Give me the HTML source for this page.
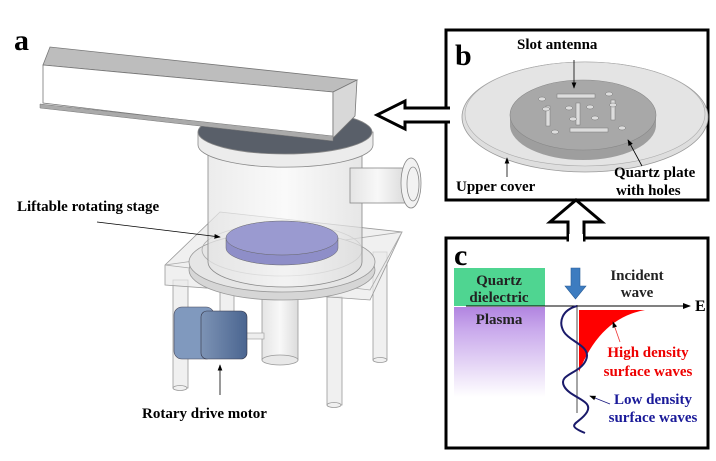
<!DOCTYPE html>
<html><head><style>
body{margin:0;background:#fff}
svg{display:block}
text{font-family:"Liberation Serif",serif;font-weight:bold}
</style></head><body>
<svg width="716" height="461" viewBox="0 0 716 461" xmlns="http://www.w3.org/2000/svg">
<defs>
<linearGradient id="pl" x1="0" y1="0" x2="0" y2="1">
<stop offset="0" stop-color="#b184e0"/><stop offset="0.25" stop-color="#c9a9ec"/><stop offset="1" stop-color="#fff"/></linearGradient>
<linearGradient id="cyl" x1="0" x2="1"><stop offset="0" stop-color="#e4e4e4"/><stop offset="0.5" stop-color="#f8f8f8"/><stop offset="1" stop-color="#dcdcdc"/></linearGradient>
<linearGradient id="mot" x1="0" x2="1"><stop offset="0" stop-color="#7d93b5"/><stop offset="1" stop-color="#4a6590"/></linearGradient>
<marker id="ah" markerWidth="8" markerHeight="8" refX="7" refY="4" orient="auto"><path d="M0,1 L8,4 L0,7z" fill="#000"/></marker>
</defs>
<text x="14" y="50" font-size="30">a</text>
<g fill="#f0f0f0" stroke="#999" stroke-width="0.8">
<rect x="173" y="280" width="15" height="108"/><ellipse cx="180" cy="388" rx="7" ry="2.5"/>
<rect x="327" y="297" width="15" height="108"/><ellipse cx="334" cy="405" rx="7" ry="2.5"/>
<rect x="373" y="252" width="14" height="108"/><ellipse cx="380" cy="360" rx="7" ry="2.5"/>
<rect x="220" y="285" width="14" height="30"/>
</g>
<rect x="262" y="290" width="36" height="70" fill="url(#cyl)" stroke="#999" stroke-width="0.8"/>
<ellipse cx="280" cy="360" rx="18" ry="5" fill="#e8e8e8" stroke="#999" stroke-width="0.8"/>
<polygon points="165,265 220,212 402,232 370,300 165,285" fill="#eaeaea" fill-opacity="0.7" stroke="#999" stroke-width="0.8"/>
<polygon points="165,265 370,290 402,232" fill="none" stroke="#aaa" stroke-width="0.8"/>
<ellipse cx="282" cy="270" rx="93" ry="30" fill="#d6d6d6" stroke="#999" stroke-width="0.8"/>
<ellipse cx="282" cy="262" rx="93" ry="30" fill="#e6e6e6" stroke="#999" stroke-width="0.8"/>
<ellipse cx="282" cy="250" rx="80" ry="26" fill="none" stroke="#aaa" stroke-width="0.8"/>
<path d="M208,145 L208,262 A77,25 0 0 0 362,262 L362,145z" fill="url(#cyl)" fill-opacity="0.7" stroke="#888" stroke-width="0.8"/>
<rect x="350" y="168" width="55" height="35" fill="url(#cyl)" stroke="#888" stroke-width="0.8"/>
<ellipse cx="411" cy="183" rx="10" ry="25" fill="#f2f2f2" stroke="#888" stroke-width="0.8"/>
<ellipse cx="413" cy="184" rx="6" ry="17" fill="none" stroke="#888" stroke-width="0.8"/>
<path d="M226,238 L226,248 A56,17 0 0 0 338,248 L338,238z" fill="#8e8ec8" stroke="#666" stroke-width="0.5"/>
<ellipse cx="282" cy="238" rx="56" ry="17" fill="#9a9ad0" stroke="#666" stroke-width="0.5"/>
<path d="M198,132 L198,145 A87,22 0 0 0 373,145 L373,132z" fill="#ececec" stroke="#888" stroke-width="0.8"/>
<ellipse cx="285" cy="132" rx="87" ry="22" fill="#595f69" stroke="#888" stroke-width="0.8"/>
<polygon points="43,65 50,47 357,80 333,92" fill="#bdbdbd" stroke="#777" stroke-width="0.8"/>
<polygon points="43,65 333,92 333,138 43,103" fill="#fff" stroke="#777" stroke-width="0.8"/>
<polygon points="333,92 357,80 355,116 333,138" fill="#d8d8d8" stroke="#777" stroke-width="0.8"/>
<polygon points="40,104 333,136 333,141 40,108" fill="#aaa" stroke="#777" stroke-width="0.5"/>
<rect x="242" y="333" width="22" height="6" fill="#eee" stroke="#999" stroke-width="0.6"/>
<rect x="174" y="307" width="40" height="52" rx="8" fill="#8099be" stroke="#445" stroke-width="0.6"/>
<rect x="201" y="311" width="46" height="48" rx="6" fill="url(#mot)" stroke="#334" stroke-width="0.6"/>
<text x="17" y="211" font-size="15">Liftable rotating stage</text>
<line x1="97" y1="222" x2="220" y2="237" stroke="#000" stroke-width="0.8" marker-end="url(#ah)"/>
<line x1="220" y1="395" x2="220" y2="365" stroke="#000" stroke-width="0.8" marker-end="url(#ah)"/>
<text x="142" y="418" font-size="15">Rotary drive motor</text>
<polygon points="377,115 405,101 405,108 447,108 447,122 405,122 405,129" fill="#fff" stroke="#000" stroke-width="3"/>
<polygon points="576,200 602,222 584,222 584,240 568,240 568,222 550,222" fill="#fff" stroke="#000" stroke-width="3"/>
<rect x="446" y="30" width="262" height="170" fill="none" stroke="#000" stroke-width="3"/>
<rect x="444" y="109" width="6" height="12" fill="#fff"/>
<line x1="405" y1="108" x2="450" y2="108" stroke="#000" stroke-width="3"/>
<line x1="405" y1="122" x2="450" y2="122" stroke="#000" stroke-width="3"/>
<text x="455" y="65" font-size="30">b</text>
<text x="517" y="49" font-size="15">Slot antenna</text>
<ellipse cx="585" cy="117" rx="123" ry="55" fill="#dedede" stroke="#999" stroke-width="0.8"/>
<ellipse cx="585" cy="114" rx="120" ry="52" fill="#e4e4e4" stroke="#aaa" stroke-width="0.6"/>
<path d="M510,115 L510,125 A73,35 0 0 0 656,125 L656,115z" fill="#9e9e9e"/>
<ellipse cx="583" cy="115" rx="73" ry="35" fill="#a8a8a8" stroke="#888" stroke-width="0.6"/>
<g fill="#ddd" stroke="#777" stroke-width="0.5">
<rect x="557" y="94" width="38" height="4"/><rect x="570" y="128" width="38" height="4"/>
<rect x="576" y="103" width="4" height="22"/><rect x="546" y="106" width="4" height="20"/><rect x="611" y="100" width="4" height="20"/>
<ellipse cx="542" cy="99" rx="3.5" ry="2"/><ellipse cx="546" cy="109" rx="3.5" ry="2"/><ellipse cx="569" cy="108" rx="3.5" ry="2"/><ellipse cx="590" cy="107" rx="3.5" ry="2"/><ellipse cx="573" cy="119" rx="3.5" ry="2"/><ellipse cx="595" cy="118" rx="3.5" ry="2"/><ellipse cx="555" cy="132" rx="3.5" ry="2"/><ellipse cx="609" cy="94" rx="3.5" ry="2"/><ellipse cx="622" cy="128" rx="3.5" ry="2"/><ellipse cx="613" cy="105" rx="3.5" ry="2"/>
</g>
<line x1="574" y1="60" x2="574" y2="88" stroke="#000" stroke-width="0.8" marker-end="url(#ah)"/>
<line x1="507" y1="177" x2="507" y2="158" stroke="#000" stroke-width="0.8" marker-end="url(#ah)"/>
<line x1="642" y1="166" x2="628" y2="140" stroke="#000" stroke-width="0.8" marker-end="url(#ah)"/>
<text x="456" y="191" font-size="15">Upper cover</text>
<text x="614" y="177" font-size="15">Quartz plate</text>
<text x="616" y="195" font-size="15">with holes</text>
<rect x="446" y="238" width="262" height="210" fill="none" stroke="#000" stroke-width="3"/>
<rect x="569" y="234" width="14" height="8" fill="#fff"/>
<text x="454" y="265" font-size="30">c</text>
<rect x="454" y="268" width="91" height="38" fill="#4fd591"/>
<rect x="454" y="307" width="91" height="90" fill="url(#pl)"/>
<text x="499" y="285" font-size="15" text-anchor="middle" fill="#222">Quartz</text>
<text x="499" y="302" font-size="15" text-anchor="middle" fill="#222">dielectric</text>
<text x="499" y="324" font-size="15" text-anchor="middle" fill="#222">Plasma</text>
<text x="637" y="280" font-size="15" text-anchor="middle" fill="#222">Incident</text>
<text x="637" y="297" font-size="15" text-anchor="middle" fill="#222">wave</text>
<path d="M571,268 L580,268 L580,286 L586,286 L575.5,299 L565,286 L571,286z" fill="#3d7cc0" stroke="#2a5f99" stroke-width="0.6"/>
<path d="M579,310 L645,310 Q600,318 579,372z" fill="#f00"/>
<line x1="577" y1="305" x2="577" y2="413" stroke="#888" stroke-width="1.5"/>
<line x1="466" y1="306" x2="690" y2="306" stroke="#000" stroke-width="1" marker-end="url(#ah)"/>
<text x="695" y="311" font-size="16">E</text>
<path d="M577,306 C562,310 558,322 564,332 S592,346 586,360 S558,374 564,386 S594,400 587,412 S563,424 585,433" fill="none" stroke="#1a1a6a" stroke-width="2"/>
<line x1="620" y1="342" x2="613" y2="322" stroke="#e33" stroke-width="0.8" marker-end="url(#ah)"/>
<text x="648" y="357" font-size="15" fill="#e00" text-anchor="middle">High density</text>
<text x="648" y="376" font-size="15" fill="#e00" text-anchor="middle">surface waves</text>
<line x1="610" y1="404" x2="590" y2="396" stroke="#1a1a80" stroke-width="0.8" marker-end="url(#ah)"/>
<text x="653" y="404" font-size="15" fill="#1a1a99" text-anchor="middle">Low density</text>
<text x="653" y="422" font-size="15" fill="#1a1a99" text-anchor="middle">surface waves</text>
</svg>
</body></html>
